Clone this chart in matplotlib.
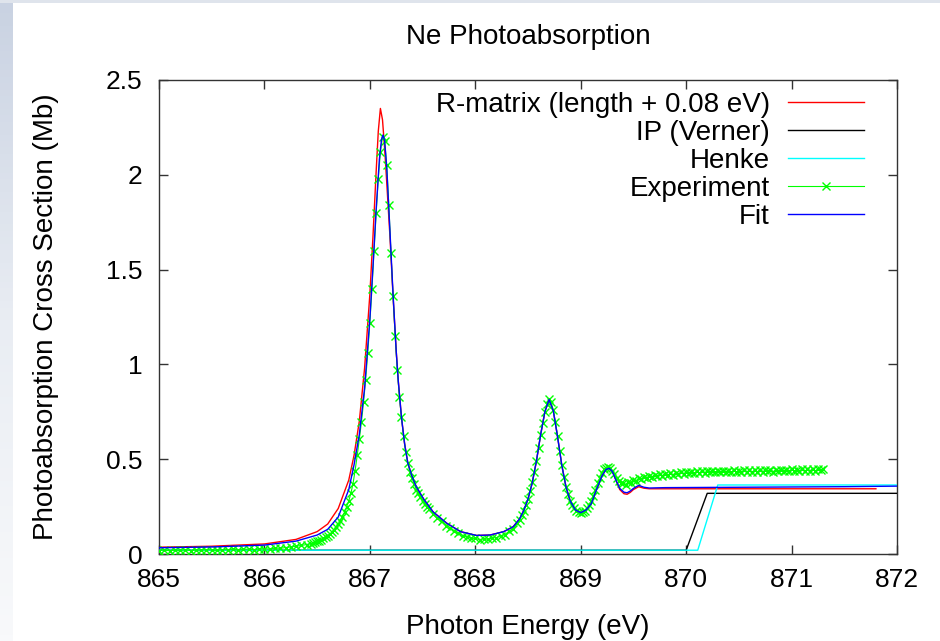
import matplotlib
matplotlib.use("Agg")
import matplotlib.pyplot as plt
import numpy as np
from matplotlib.colors import LinearSegmentedColormap
from matplotlib.patches import Rectangle
from matplotlib.ticker import FuncFormatter

plt.rcParams['font.family'] = ['Liberation Sans', 'DejaVu Sans']

# --- data (photon energy in eV, cross section in Mb) ---
rm_energy = [865.00, 865.50, 866.00, 866.30, 866.50, 866.60, 866.70, 866.80, 866.85, 866.90,
             866.95, 867.00, 867.03, 867.06, 867.08, 867.10, 867.12, 867.14, 867.16, 867.19,
             867.22, 867.25, 867.27, 867.30, 867.33, 867.36, 867.40, 867.44, 867.51, 867.60,
             867.73, 867.86, 868.01, 868.14, 868.27, 868.36, 868.42, 868.46, 868.50, 868.54,
             868.58, 868.62, 868.66, 868.70, 868.74, 868.78, 868.82, 868.86, 868.90, 868.95,
             869.00, 869.05, 869.10, 869.15, 869.20, 869.24, 869.27, 869.30, 869.33, 869.37,
             869.41, 869.44, 869.47, 869.50, 869.55, 869.60, 869.65, 870.50, 871.80]
rm_xsec = [0.036, 0.041, 0.053, 0.077, 0.118, 0.158, 0.240, 0.390, 0.520, 0.700,
           0.980, 1.370, 1.680, 2.020, 2.230, 2.350, 2.290, 2.140, 1.960, 1.680,
           1.360, 1.070, 0.910, 0.720, 0.580, 0.480, 0.410, 0.355, 0.290, 0.222,
           0.162, 0.118, 0.098, 0.100, 0.118, 0.144, 0.185, 0.230, 0.290, 0.375,
           0.490, 0.630, 0.750, 0.815, 0.755, 0.620, 0.470, 0.355, 0.280, 0.232,
           0.218, 0.232, 0.265, 0.340, 0.410, 0.446, 0.452, 0.435, 0.395, 0.340,
           0.318, 0.315, 0.325, 0.340, 0.355, 0.347, 0.344, 0.344, 0.344]

ip_energy = [865.00, 870.00, 870.20, 872.00]
ip_xsec = [0.020, 0.020, 0.320, 0.320]

henke_energy = [865.00, 870.11, 870.30, 872.00]
henke_xsec = [0.020, 0.020, 0.364, 0.364]

exp_energy = [
    865.00, 865.05, 865.10, 865.15, 865.20, 865.25, 865.30, 865.35, 865.40, 865.45,
    865.50, 865.55, 865.60, 865.65, 865.70, 865.75, 865.80, 865.85, 865.90, 865.95,
    866.00, 866.05, 866.10, 866.15, 866.20, 866.25, 866.30, 866.35, 866.40,
    866.44, 866.46, 866.48, 866.50, 866.52, 866.54, 866.56, 866.58, 866.60, 866.62,
    866.64, 866.66, 866.68, 866.70, 866.72, 866.74, 866.76, 866.78, 866.80, 866.82,
    866.84, 866.86, 866.88, 866.90, 866.92, 866.94, 866.96, 866.98, 867.00, 867.02,
    867.04, 867.06, 867.08, 867.10, 867.12, 867.14, 867.16, 867.18, 867.20, 867.22,
    867.24, 867.26, 867.28, 867.30, 867.32, 867.34, 867.36, 867.38, 867.40, 867.42,
    867.44, 867.46, 867.48, 867.50, 867.52, 867.54, 867.56,
    867.60, 867.64, 867.68, 867.72, 867.76, 867.80, 867.84, 867.88, 867.92, 867.96,
    868.00, 868.04, 868.08, 868.12, 868.16, 868.20, 868.24, 868.28, 868.32, 868.36,
    868.40,
    868.42, 868.44, 868.46, 868.48, 868.50, 868.52, 868.54, 868.56, 868.58, 868.60,
    868.62, 868.64, 868.66, 868.68, 868.70, 868.72, 868.74, 868.76, 868.78, 868.80,
    868.82, 868.84, 868.86, 868.88, 868.90, 868.92, 868.94, 868.96, 868.98, 869.00,
    869.02, 869.04, 869.06, 869.08, 869.10, 869.12, 869.14, 869.16, 869.18, 869.20,
    869.22, 869.24, 869.26, 869.28, 869.30, 869.32, 869.34, 869.36, 869.38,
    869.400, 869.425, 869.450, 869.475, 869.500, 869.525, 869.550, 869.575, 869.600, 869.625,
    869.650, 869.675, 869.700, 869.725, 869.750, 869.775, 869.800, 869.825, 869.850, 869.875,
    869.900, 869.925, 869.950, 869.975, 870.000, 870.025, 870.050, 870.075, 870.100, 870.125,
    870.150, 870.175, 870.200, 870.225, 870.250, 870.275, 870.300, 870.325, 870.350, 870.375,
    870.400, 870.425, 870.450, 870.475, 870.500, 870.525, 870.550, 870.575, 870.600, 870.625,
    870.650, 870.675, 870.700, 870.725, 870.750, 870.775, 870.800, 870.825, 870.850, 870.875,
    870.900, 870.925, 870.950, 870.975, 871.000, 871.025, 871.050, 871.075, 871.100, 871.125,
    871.150, 871.175, 871.200, 871.225, 871.250, 871.275, 871.300]
exp_xsec = [
    0.018, 0.021, 0.017, 0.020, 0.019, 0.022, 0.018, 0.021, 0.020, 0.023,
    0.021, 0.019, 0.023, 0.022, 0.025, 0.021, 0.024, 0.026, 0.023, 0.027,
    0.028, 0.026, 0.031, 0.030, 0.034, 0.037, 0.041, 0.045, 0.050,
    0.055, 0.058, 0.062, 0.066, 0.071, 0.076, 0.082, 0.089, 0.097, 0.106,
    0.116, 0.128, 0.142, 0.158, 0.176, 0.197, 0.222, 0.250, 0.280, 0.320,
    0.370, 0.440, 0.520, 0.605, 0.695, 0.800, 0.920, 1.060, 1.220, 1.400,
    1.600, 1.800, 1.980, 2.120, 2.200, 2.180, 2.050, 1.840, 1.590, 1.360,
    1.150, 0.970, 0.830, 0.720, 0.620, 0.540, 0.480, 0.430, 0.400, 0.370,
    0.340, 0.320, 0.300, 0.280, 0.265, 0.250, 0.235,
    0.212, 0.188, 0.172, 0.150, 0.139, 0.120, 0.110, 0.096, 0.092, 0.083,
    0.082, 0.076, 0.080, 0.077, 0.085, 0.086, 0.097, 0.102, 0.120, 0.133,
    0.162,
    0.180, 0.205, 0.228, 0.258, 0.292, 0.330, 0.378, 0.432, 0.492, 0.560,
    0.628, 0.690, 0.748, 0.792, 0.818, 0.800, 0.758, 0.695, 0.622, 0.545,
    0.472, 0.408, 0.356, 0.315, 0.282, 0.258, 0.240, 0.228, 0.221, 0.218,
    0.220, 0.228, 0.240, 0.256, 0.278, 0.305, 0.338, 0.372, 0.403, 0.428,
    0.446, 0.456, 0.460, 0.455, 0.440, 0.420, 0.400, 0.385, 0.376,
    0.372, 0.366, 0.381, 0.377, 0.392, 0.386, 0.401, 0.395, 0.408, 0.401,
    0.414, 0.406, 0.418, 0.410, 0.421, 0.414, 0.424, 0.416, 0.426, 0.418,
    0.428, 0.420, 0.431, 0.423, 0.433, 0.425, 0.434, 0.427, 0.436, 0.428,
    0.437, 0.429, 0.438, 0.430, 0.437, 0.431, 0.439, 0.431, 0.440, 0.432,
    0.438, 0.431, 0.441, 0.433, 0.440, 0.432, 0.442, 0.434, 0.441, 0.433,
    0.442, 0.434, 0.443, 0.435, 0.441, 0.436, 0.444, 0.435, 0.443, 0.436,
    0.445, 0.437, 0.444, 0.438, 0.446, 0.437, 0.445, 0.439, 0.447, 0.438,
    0.446, 0.440, 0.448, 0.439, 0.447, 0.441, 0.446]

fit_energy = [865.00, 865.50, 866.00, 866.30, 866.50, 866.60, 866.70, 866.80, 866.85, 866.90,
              866.95, 867.00, 867.03, 867.06, 867.09, 867.11, 867.125, 867.14, 867.16, 867.19,
              867.22, 867.25, 867.27, 867.30, 867.33, 867.36, 867.40, 867.44, 867.51, 867.60,
              867.73, 867.86, 868.01, 868.14, 868.27, 868.36, 868.42, 868.46, 868.50, 868.54,
              868.58, 868.62, 868.66, 868.70, 868.74, 868.78, 868.82, 868.86, 868.90, 868.95,
              869.00, 869.05, 869.10, 869.15, 869.20, 869.24, 869.27, 869.30, 869.33, 869.37,
              869.41, 869.44, 869.47, 869.50, 869.55, 869.60, 869.65, 869.80, 870.50, 871.50,
              872.00]
fit_xsec = [0.033, 0.037, 0.047, 0.068, 0.100, 0.130, 0.195, 0.340, 0.470, 0.630,
            0.875, 1.240, 1.520, 1.820, 2.080, 2.185, 2.210, 2.180, 2.040, 1.710,
            1.370, 1.070, 0.910, 0.720, 0.580, 0.480, 0.410, 0.355, 0.290, 0.222,
            0.162, 0.118, 0.098, 0.100, 0.118, 0.144, 0.185, 0.230, 0.290, 0.375,
            0.490, 0.630, 0.750, 0.815, 0.755, 0.620, 0.470, 0.355, 0.280, 0.232,
            0.218, 0.232, 0.265, 0.340, 0.410, 0.446, 0.452, 0.435, 0.395, 0.346,
            0.326, 0.323, 0.332, 0.346, 0.362, 0.352, 0.348, 0.350, 0.352, 0.355,
            0.358]

x_ticks = [865, 866, 867, 868, 869, 870, 871, 872]
y_ticks = [0, 0.5, 1, 1.5, 2, 2.5]

fig = plt.figure(figsize=(9.4, 6.41), dpi=100)
fig.patch.set_facecolor('white')

# slide background showing at the left and top edges
edge_cmap = LinearSegmentedColormap.from_list('edge', ['#c9d2e2', '#e9edf3', '#f8f9fb'])
strip = fig.add_axes([0, 0, 13 / 940, 1], zorder=-2)
strip.imshow(np.linspace(0, 1, 100).reshape(-1, 1), cmap=edge_cmap, aspect='auto')
strip.axis('off')
fig.add_artist(Rectangle((0, 638 / 641), 1, 3 / 641, transform=fig.transFigure,
                         facecolor='#dfe4ec', edgecolor='none', zorder=-1))

ax = fig.add_axes([159 / 940, 87 / 641, 738 / 940, 474 / 641])

ax.plot(rm_energy, rm_xsec, color='#ff0000', lw=1.0, zorder=2,
        label='R-matrix (length + 0.08 eV)')
ax.plot(ip_energy, ip_xsec, color='black', lw=1.0, zorder=3, label='IP (Verner)')
ax.plot(henke_energy, henke_xsec, color='#00ffff', lw=1.0, zorder=4, label='Henke')
ax.plot(exp_energy, exp_xsec, color='#00ff00', lw=0.8, marker='x', ms=6, mew=1.0,
        zorder=5, label='Experiment')
ax.plot(fit_energy, fit_xsec, color='#0000ff', lw=1.0, zorder=6, label='Fit')

ax.set_xlim(865, 872)
ax.set_ylim(0, 2.5)
ax.set_xticks(x_ticks)
ax.set_yticks(y_ticks)
ax.yaxis.set_major_formatter(FuncFormatter(lambda v, p: '%g' % v))
ax.xaxis.set_major_formatter(FuncFormatter(lambda v, p: '%g' % v))

for s in ax.spines.values():
    s.set_color('#333333')
    s.set_linewidth(1.0)
ax.tick_params(direction='in', length=6.5, width=1, colors='#333333',
               top=True, right=True, labelsize=19, labelcolor='black')
ax.tick_params(axis='x', pad=10)
ax.tick_params(axis='y', pad=12)

ax.set_title('Ne Photoabsorption', fontsize=20, y=1.0907, va='center', pad=0)
ax.set_xlabel('Photon Energy (eV)', fontsize=20)
ax.xaxis.set_label_coords(0.5, -0.155)
ax.xaxis.label.set_va('center')
ax.set_ylabel('Photoabsorption Cross Section (Mb)', fontsize=20)
ax.yaxis.set_label_coords(-0.153, 0.5)
ax.yaxis.label.set_va('center')

ax.legend(loc='upper right', bbox_to_anchor=(0.955, 0.9745), frameon=False,
          markerfirst=False, handlelength=2.73, handletextpad=0.65,
          labelspacing=0.07, borderpad=0, borderaxespad=0, fontsize=20,
          numpoints=1)

fig.savefig('out.png', dpi=100)
